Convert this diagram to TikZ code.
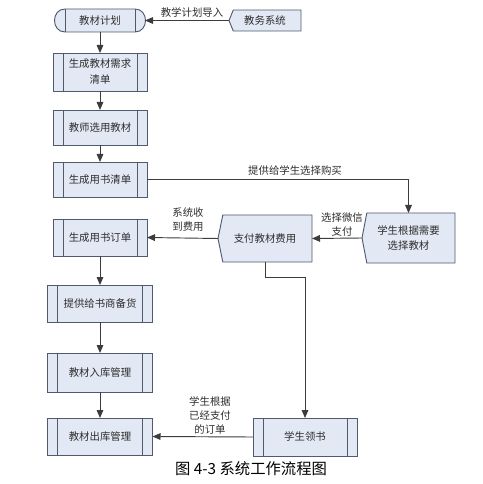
\documentclass[tikz,border=0pt]{standalone}
\usepackage{fontspec}
\setmainfont{Noto Sans CJK SC}
\usetikzlibrary{arrows.meta,backgrounds}
\definecolor{boxfill}{RGB}{226,232,244}
\definecolor{boxline}{RGB}{80,90,108}
\definecolor{linegray}{RGB}{60,60,60}
\definecolor{txt}{RGB}{45,45,45}
\begin{document}
\begin{tikzpicture}[x=0.75pt,y=-0.75pt,
  every node/.style={inner sep=0pt,outer sep=0pt,text=txt},
  w/.style={minimum width={#1*0.75pt}},
  h/.style={minimum height={#1*0.75pt}},
  boxtext/.style={font=\fontsize{7.8pt}{12pt}\selectfont,align=center},
  subproc/.style={boxtext,draw=boxline,fill=boxfill,line width=0.7pt,
    path picture={
      \draw[boxline,line width=0.7pt]
        ([xshift=7.5pt]path picture bounding box.north west) --
        ([xshift=7.5pt]path picture bounding box.south west)
        ([xshift=-7.5pt]path picture bounding box.north east) --
        ([xshift=-7.5pt]path picture bounding box.south east);}},
  plain/.style={boxtext},
  shapeline/.style={draw=boxline,fill=boxfill,line width=0.7pt},
  lbl/.style={font=\fontsize{7.8pt}{10.5pt}\selectfont,align=center},
  flow/.style={draw=linegray,line width=0.7pt,-{Triangle[length=6pt,width=5pt]}}
]
\useasboundingbox (0,0) rectangle (482,484);

% left column
\node[plain,w=90,h=23] (plan) at (100,20.5) {教材计划};
\node[subproc,w=94,h=38] (need) at (100,72) {生成教材需求\\清单};
\node[subproc,w=94,h=35] (teach) at (100,127.5) {教师选用教材};
\node[subproc,w=94,h=35] (list) at (100,179.5) {生成用书清单};
\node[subproc,w=94,h=37] (order) at (100,237.5) {生成用书订单};
\node[subproc,w=105,h=37] (supply) at (100,303.5) {提供给书商备货};
\node[subproc,w=105,h=39] (instock) at (100,372.5) {教材入库管理};
\node[subproc,w=105,h=37] (outstock) at (100,436.5) {教材出库管理};

% right side
\node[plain,w=72,h=21] (sys) at (265,20.5) {教务系统};
\node[plain,w=93,h=50,font=\fontsize{7.8pt}{11pt}\selectfont] (choose) at (408.5,238) {学生根据需要\\选择教材};
\node[plain,w=94,h=47] (pay) at (265,238.5) {支付教材费用};
\node[subproc,w=104,h=38] (get) at (305,437) {学生领书};

\begin{scope}[on background layer]
  % terminator
  \path[shapeline]
    ([xshift=7.5pt]plan.north west) -- ([xshift=-7.5pt]plan.north east)
    .. controls ([xshift=3pt]plan.north east) and ([xshift=3pt]plan.south east) ..
    ([xshift=-7.5pt]plan.south east) -- ([xshift=7.5pt]plan.south west)
    .. controls ([xshift=-3pt]plan.south west) and ([xshift=-3pt]plan.north west) ..
    cycle;
  \draw[boxline,line width=0.7pt]
    ([xshift=7.5pt]plan.north west) -- ([xshift=7.5pt]plan.south west)
    ([xshift=-7.5pt]plan.north east) -- ([xshift=-7.5pt]plan.south east);
  % chevron shapes
  \path[shapeline] (sys.north east) -- ([xshift=3.2pt]sys.north west) -- (sys.west)
    -- ([xshift=3.2pt]sys.south west) -- (sys.south east) -- cycle;
  \path[shapeline] (choose.north east) -- ([xshift=3.6pt]choose.north west) -- (choose.west)
    -- ([xshift=3.6pt]choose.south west) -- (choose.south east) -- cycle;
  \path[shapeline] (pay.north east) -- ([xshift=3.6pt]pay.north west) -- (pay.west)
    -- ([xshift=3.6pt]pay.south west) -- (pay.south east) -- cycle;
\end{scope}

% connectors
\draw[flow] (sys.west) -- (plan.east);
\draw[flow] (plan.south) -- (need.north);
\draw[flow] (need.south) -- (teach.north);
\draw[flow] (teach.south) -- (list.north);
\draw[flow] (list.east) -| (choose.north);
\draw[flow] (choose.west) -- (pay.east);
\draw[flow] (pay.west) -- (order.east);
\draw[flow] (order.south) -- (supply.north);
\draw[flow] (supply.south) -- (instock.north);
\draw[flow] (instock.south) -- (outstock.north);
\draw[flow] (pay.south) -- ++(0,15) -| (get.north);
\draw[flow] (get.west) -- (outstock.east);

% labels
\node[lbl] (l1) at (192,12.5) {教学计划导入};
\node[lbl] (l2) at (295,171) {提供给学生选择购买};
\node[lbl] (l3) at (342,225) {选择微信\\支付};
\node[lbl] (l4) at (188,220) {系统收\\到费用};
\node[lbl] (l5) at (210,415) {学生根据\\已经支付\\的订单};
\node[font=\fontsize{11.5pt}{12pt}\selectfont,text=black] (cap) at (251,469) {图 4-3 系统工作流程图};
\end{tikzpicture}
\end{document}
